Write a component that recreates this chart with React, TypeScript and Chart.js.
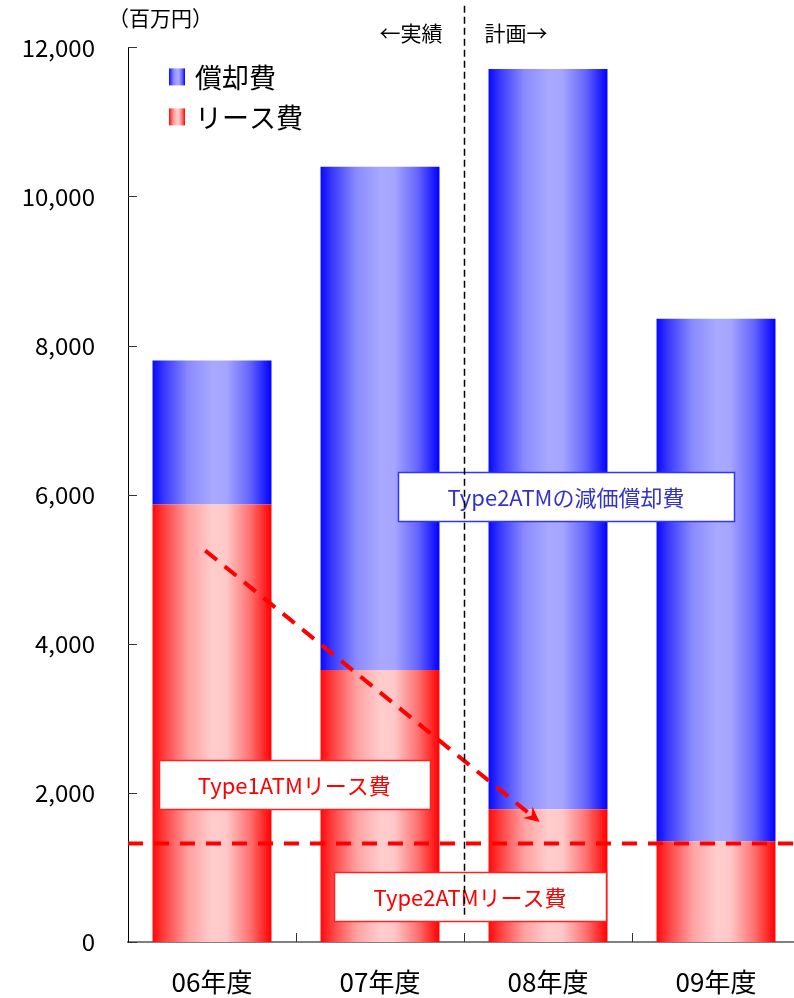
import React, { useEffect, useRef } from "react";
import { Chart, registerables } from "chart.js";

Chart.register(...registerables);

const categories = ["06年度", "07年度", "08年度", "09年度"];
const leaseCost = [5870, 3650, 1780, 1350];
const depreciationCost = [1930, 6750, 9930, 7010];
const yMax = 12000;
const yStep = 2000;
const seriesNames = ["償却費", "リース費"];
const unitLabel = "（百万円）";
const pastLabel = "←実績";
const planLabel = "計画→";
const type2LeaseLevel = 1320;
const dividerIndex = 1.5;
const dividerTopValue = 12560;
const dividerBottomValue = 335;
const arrowFrom = { x: -0.04, y: 5250 };
const arrowTo = { x: 1.95, y: 1610 };
const boxes = [
  { text: "Type2ATMの減価償却費", cx: 2.107, cy: 5973, w: 336, h: 49, color: "#3333cc", border: "#3333ff" },
  { text: "Type1ATMリース費", cx: 0.49, cy: 2112, w: 271, h: 49, color: "#ff0000", border: "#ff2020" },
  { text: "Type2ATMリース費", cx: 1.536, cy: 610, w: 272, h: 49, color: "#ff0000", border: "#ff2020" },
];

const FONT = '"Noto Sans CJK JP", "Noto Sans", sans-serif';
const BAR_PCT = 0.708;

const blueStops: [number, string][] = [
  [0, "#0808ff"], [0.1, "#3a3aff"], [0.3, "#8a8aff"], [0.5, "#a8a8ff"],
  [0.62, "#a6a6ff"], [0.82, "#6464ff"], [1, "#0000ff"],
];
const redStops: [number, string][] = [
  [0, "#ff0808"], [0.1, "#ff4040"], [0.3, "#ffa0a0"], [0.5, "#ffcccc"],
  [0.62, "#ffc8c8"], [0.82, "#ff7070"], [1, "#ff0000"],
];

function makeGradient(c: CanvasRenderingContext2D, x0: number, x1: number, stops: [number, string][]) {
  const g = c.createLinearGradient(x0, 0, x1, 0);
  stops.forEach(([o, col]) => g.addColorStop(o, col));
  return g;
}

function barFill(stops: [number, string][]) {
  return (ctx: any) => {
    const chart = ctx.chart;
    if (ctx.dataIndex === undefined || !chart.chartArea || !chart.scales.x) return stops[3][1];
    const xs = chart.scales.x;
    const cx = xs.getPixelForValue(ctx.dataIndex);
    const w = (xs.width / categories.length) * BAR_PCT;
    return makeGradient(chart.ctx, cx - w / 2, cx + w / 2, stops);
  };
}

const overlayPlugin = {
  id: "overlay",
  afterDatasetsDraw(chart: any) {
    const c: CanvasRenderingContext2D = chart.ctx;
    const xs = chart.scales.x;
    const ys = chart.scales.y;
    const area = chart.chartArea;
    const px = (v: number) => xs.getPixelForValue(v);
    const py = (v: number) => ys.getPixelForValue(v);
    c.save();

    // tick marks (inward)
    c.lineWidth = 1;
    c.strokeStyle = "#333";
    for (let v = 0; v <= yMax; v += yStep) {
      const y = Math.round(py(v)) + 0.5;
      c.beginPath();
      c.moveTo(area.left, y);
      c.lineTo(area.left + 9, y);
      c.stroke();
    }
    for (let i = 0; i < categories.length - 1; i++) {
      const x = Math.round(px(i + 0.5)) + 0.5;
      c.beginPath();
      c.moveTo(x, area.bottom);
      c.lineTo(x, area.bottom - 9);
      c.stroke();
    }

    // annotation boxes
    boxes.forEach((b) => {
      const cx = px(b.cx);
      const cy = py(b.cy);
      const x0 = Math.round(cx - b.w / 2) + 0.5;
      const y0 = Math.round(cy - b.h / 2) + 0.5;
      c.fillStyle = "#ffffff";
      c.fillRect(x0, y0, b.w, b.h);
      c.strokeStyle = b.border;
      c.lineWidth = 1.5;
      c.strokeRect(x0, y0, b.w, b.h);
      c.fillStyle = b.color;
      c.font = `22px ${FONT}`;
      c.textAlign = "center";
      c.textBaseline = "middle";
      c.fillText(b.text, cx, cy + 1);
    });

    // horizontal dashed red line
    c.strokeStyle = "#ff0000";
    c.lineWidth = 4;
    c.setLineDash([15, 11]);
    c.beginPath();
    const hy = py(type2LeaseLevel);
    c.moveTo(area.left, hy);
    c.lineTo(chart.width, hy);
    c.stroke();

    // dashed arrow
    const ax0 = px(arrowFrom.x), ay0 = py(arrowFrom.y);
    const ax1 = px(arrowTo.x), ay1 = py(arrowTo.y);
    const ang = Math.atan2(ay1 - ay0, ax1 - ax0);
    const headLen = 17;
    c.setLineDash([15, 10]);
    c.lineWidth = 4;
    c.beginPath();
    c.moveTo(ax0, ay0);
    c.lineTo(ax1 - Math.cos(ang) * (headLen - 4), ay1 - Math.sin(ang) * (headLen - 4));
    c.stroke();
    c.setLineDash([]);
    c.fillStyle = "#ff0000";
    c.beginPath();
    c.moveTo(ax1, ay1);
    c.lineTo(ax1 - headLen * Math.cos(ang - 0.45), ay1 - headLen * Math.sin(ang - 0.45));
    c.lineTo(ax1 - headLen * 0.6 * Math.cos(ang), ay1 - headLen * 0.6 * Math.sin(ang));
    c.lineTo(ax1 - headLen * Math.cos(ang + 0.45), ay1 - headLen * Math.sin(ang + 0.45));
    c.closePath();
    c.fill();

    // vertical divider
    const dx = Math.round(px(dividerIndex)) + 0.5;
    c.strokeStyle = "#000";
    c.lineWidth = 1.5;
    c.setLineDash([7, 4]);
    c.beginPath();
    c.moveTo(dx, py(dividerTopValue));
    c.lineTo(dx, py(dividerBottomValue));
    c.stroke();
    c.setLineDash([]);

    // labels around divider
    c.fillStyle = "#000";
    c.font = `21px ${FONT}`;
    c.textBaseline = "middle";
    c.textAlign = "right";
    c.fillText(pastLabel, dx - 22, area.top - 14);
    c.textAlign = "left";
    c.fillText(planLabel, dx + 20, area.top - 14);

    // unit label
    c.textAlign = "left";
    c.fillText(unitLabel, area.left - 20, area.top - 29);

    // legend
    const legendItems = [
      { name: seriesNames[0], stops: blueStops },
      { name: seriesNames[1], stops: redStops },
    ];
    legendItems.forEach((it, i) => {
      const sx = area.left + 41;
      const sy = area.top + 21 + i * 40;
      c.fillStyle = makeGradient(c, sx, sx + 16, it.stops);
      c.fillRect(sx, sy, 16, 17);
      c.fillStyle = "#000";
      c.font = `27px ${FONT}`;
      c.textAlign = "left";
      c.textBaseline = "middle";
      c.fillText(it.name, sx + 26, sy + 9);
    });

    c.restore();
  },
};

export default function App() {
  const ref = useRef<HTMLCanvasElement | null>(null);
  useEffect(() => {
    if (!ref.current) return;
    const chart = new Chart(ref.current, {
      type: "bar",
      data: {
        labels: categories,
        datasets: [
          {
            label: seriesNames[1],
            data: leaseCost,
            backgroundColor: barFill(redStops),
            borderWidth: 0,
            barPercentage: BAR_PCT,
            categoryPercentage: 1,
          },
          {
            label: seriesNames[0],
            data: depreciationCost,
            backgroundColor: barFill(blueStops),
            borderWidth: 0,
            barPercentage: BAR_PCT,
            categoryPercentage: 1,
          },
        ],
      },
      options: {
        animation: false,
        responsive: false,
        devicePixelRatio: 1,
        layout: { padding: { top: 47, right: 10, left: 0, bottom: 0 } },
        plugins: { legend: { display: false }, tooltip: { enabled: false }, title: { display: false } },
        scales: {
          x: {
            stacked: true,
            offset: true,
            grid: { display: false, drawTicks: false },
            border: { display: true, color: "#808080", width: 2 },
            ticks: { color: "#000", font: { family: FONT, size: 26 }, padding: 25 },
            afterFit: (s: any) => { s.height = 56; },
          },
          y: {
            stacked: true,
            min: 0,
            max: yMax,
            grid: { display: false, drawTicks: false },
            border: { display: true, color: "#000", width: 1 },
            ticks: {
              stepSize: yStep,
              color: "#000",
              font: { family: FONT, size: 24 },
              padding: 33,
              callback: (v: any) => Number(v).toLocaleString("en-US"),
            },
            afterFit: (s: any) => { s.width = 128; },
          },
        },
      },
      plugins: [overlayPlugin],
    } as any);
    return () => chart.destroy();
  }, []);
  return (
    <div style={{ position: "absolute", left: 0, top: 0, width: 794, height: 998, overflow: "hidden", background: "#fff" }}>
      <canvas ref={ref} width={810} height={998} style={{ display: "block", width: 810, height: 998 }} />
    </div>
  );
}
